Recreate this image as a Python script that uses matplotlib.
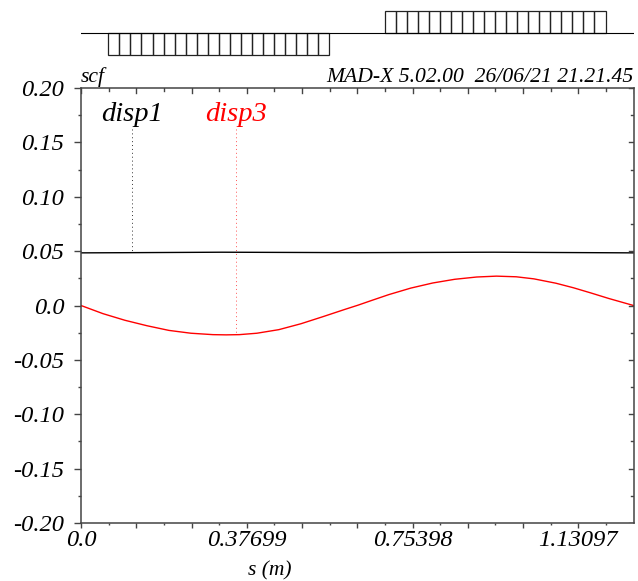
import matplotlib
matplotlib.use("Agg")
import matplotlib.pyplot as plt
from matplotlib.ticker import FixedLocator, FixedFormatter

plt.rcParams['font.family'] = ['Liberation Serif', 'DejaVu Serif']
plt.rcParams['font.style'] = 'italic'

W, H = 638, 581
s_max = 1.2566

# optics
s_disp3 = [0, .05, .10, .15, .20, .25, .30, .33, .36, .40, .45, .50, .55, .60, .63,
           .66, .70, .75, .80, .85, .90, .945, .99, 1.03, 1.08, 1.12, 1.16, 1.20, 1.2566]
disp3 = [0, -.0075, -.0136, -.0186, -.0229, -.0255, -.0268, -.0270, -.0268, -.0255, -.0222, -.0168, -.0103, -.0036, .0003,
         .0045, .0100, .0160, .0207, .0241, .0262, .0270, .0264, .0245, .0205, .0163, .0115, .0065, 0]
s_disp1 = [0, .12, .32, .63, .94, 1.2566]
disp1 = [.0484, .0486, .0490, .0486, .0490, .0484]

# labels
x_ticks_major = [0, .12566, .25133, .37699, .50265, .62832, .75398, .87965, 1.00531, 1.13097, 1.25664]
x_ticks_minor = [.06283, .18850, .31416, .43982, .56549, .69115, .81681, .94248, 1.06814, 1.19381]
x_labels = ["0.0", "", "", "0.37699", "", "", "0.75398", "", "", "1.13097", ""]
y_ticks_major = [-.20, -.15, -.10, -.05, 0, .05, .10, .15, .20]
y_ticks_minor = [-.175, -.125, -.075, -.025, .025, .075, .125, .175]
y_labels = ["-0.20", "-0.15", "-0.10", "-0.05", "0.0", "0.05", "0.10", "0.15", "0.20"]

# layout: focusing and defocusing quads, 20 slices each
quad_start = [.0622, .6904]
quad_sign = [-1, 1]
slice_len = .02513
n_slices = 20

fig = plt.figure(figsize=(W / 100, H / 100), dpi=100)
ax = fig.add_axes([81 / W, (H - 523) / H, 552.5 / W, 435 / H])
top = fig.add_axes([81 / W, (H - 66) / H, 552.5 / W, 66 / H])

# machine layout
top.plot([0, s_max], [0, 0], color="black", lw=0.8)
for start, sign in zip(quad_start, quad_sign):
    lefts = [start + i * slice_len for i in range(n_slices)]
    top.bar(lefts, [sign] * n_slices, width=slice_len, align="edge", facecolor="none", edgecolor="#222222", linewidth=0.9)
top.set_xlim(0, s_max)
top.set_ylim(-1.5, 1.5)
top.axis("off")

# curves
ax.plot(s_disp1, disp1, color="black", lw=1.0)
ax.plot(s_disp3, disp3, color="red", lw=1.0)
ax.plot([.1166, .1166], [.1620, .0487], color="#333333", lw=0.7, ls=(0, (1, 3)))
ax.plot([.3525, .3525], [.1620, -.0266], color="#ff5555", lw=0.7, ls=(0, (1, 3)))
ax.text(.1166, .1696, "disp1", color="black", fontsize=20.5, ha="center", va="baseline")
ax.text(.3525, .1696, "disp3", color="red", fontsize=20.5, ha="center", va="baseline")

ax.set_xlim(0, s_max)
ax.set_ylim(-.2, .2)
ax.xaxis.set_major_locator(FixedLocator(x_ticks_major))
ax.xaxis.set_major_formatter(FixedFormatter(x_labels))
ax.xaxis.set_minor_locator(FixedLocator(x_ticks_minor))
ax.yaxis.set_major_locator(FixedLocator(y_ticks_major))
ax.yaxis.set_major_formatter(FixedFormatter(y_labels))
ax.yaxis.set_minor_locator(FixedLocator(y_ticks_minor))

for spine in ax.spines.values():
    spine.set_color("#444444")
    spine.set_linewidth(1.1)

ax.tick_params(axis="y", which="major", left=True, right=False, direction="out", length=5, width=1, color="#444444", labelsize=17.6, pad=7)
ax.tick_params(axis="y", which="minor", left=True, right=False, direction="out", length=2.5, width=1, color="#444444")
ax.tick_params(axis="x", which="major", bottom=True, top=False, direction="out", length=3.5, width=1, color="#444444", labelsize=17.6, pad=1.5)
ax.tick_params(axis="x", which="minor", bottom=True, top=False, direction="out", length=1.5, width=1, color="#444444")

# ticks pointing inward on the top and right sides
for v in x_ticks_major:
    ax.plot([v, v], [.2, .2 - 5 / 1087], color="#444444", lw=1)
for v in x_ticks_minor:
    ax.plot([v, v], [.2, .2 - 2.5 / 1087], color="#444444", lw=1)
for v in y_ticks_major:
    ax.plot([s_max, s_max - 5 / 440], [v, v], color="#444444", lw=1)
for v in y_ticks_minor:
    ax.plot([s_max, s_max - 2.5 / 440], [v, v], color="#444444", lw=1)

fig.text(81 / W, (H - 82) / H, "scf", fontsize=15.6, ha="left", va="baseline")
fig.text(633 / W, (H - 82) / H, "MAD-X 5.02.00  26/06/21 21.21.45", fontsize=15.6, ha="right", va="baseline")
fig.text(270 / W, (H - 575) / H, "s (m)", fontsize=15.5, ha="center", va="baseline")

fig.savefig("out.png", dpi=100)
